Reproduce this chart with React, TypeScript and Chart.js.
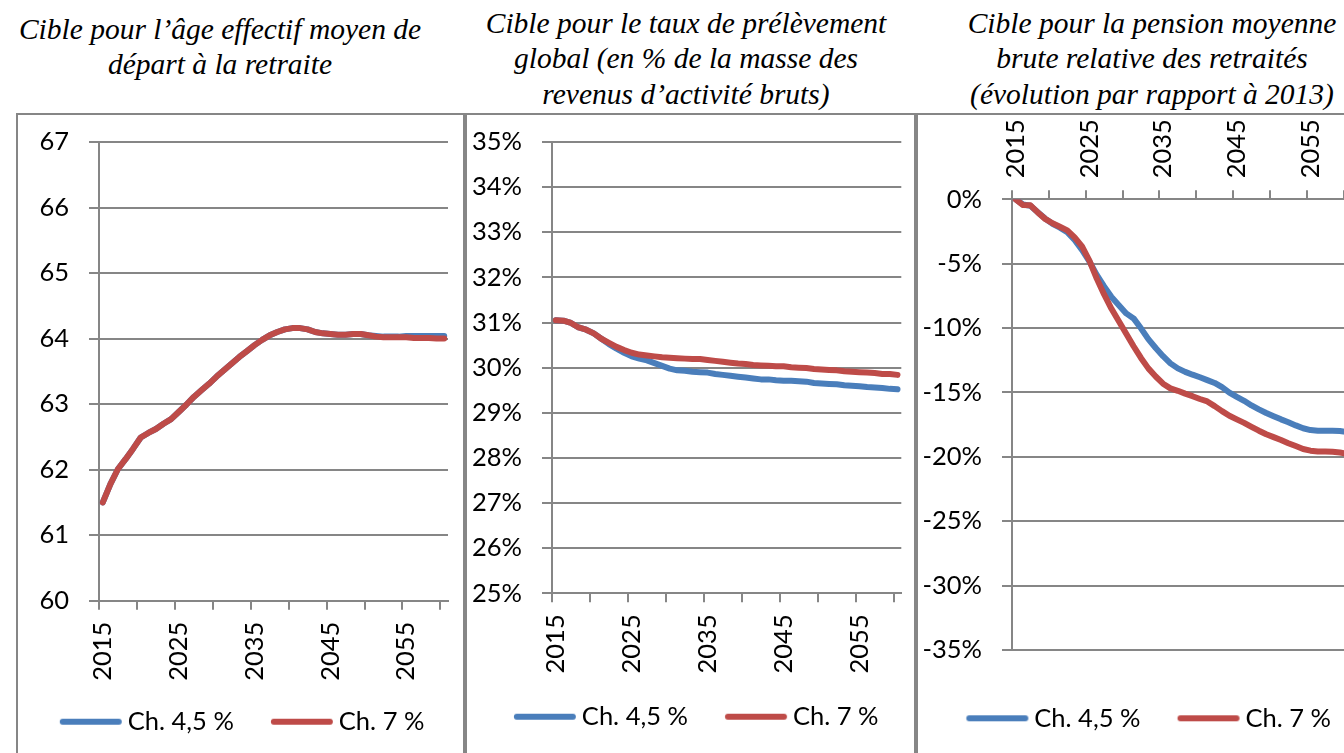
import React, { useEffect, useRef } from 'react';
import { Chart, registerables } from 'chart.js';

Chart.register(...registerables);

// ---------- DATA ----------
const years: string[] = [
  '2015', '2016', '2017', '2018', '2019', '2020', '2021', '2022', '2023', '2024',
  '2025', '2026', '2027', '2028', '2029', '2030', '2031', '2032', '2033', '2034',
  '2035', '2036', '2037', '2038', '2039', '2040', '2041', '2042', '2043', '2044',
  '2045', '2046', '2047', '2048', '2049', '2050', '2051', '2052', '2053', '2054',
  '2055', '2056', '2057', '2058', '2059', '2060',
];

const seriesNames: string[] = ['Ch. 4,5 %', 'Ch. 7 %'];

const titles: string[][] = [
  ['Cible pour l\u2019âge effectif moyen de', 'départ à la retraite'],
  ['Cible pour le taux de prélèvement', 'global (en % de la masse des', 'revenus d\u2019activité bruts)'],
  ['Cible pour la pension moyenne', 'brute relative des retraités', '(évolution par rapport à 2013)'],
];

// Panel 1 : âge effectif moyen de départ
const ageCh45: number[] = [
  61.50, 61.78, 62.01, 62.16, 62.32, 62.49, 62.56, 62.62, 62.70, 62.77,
  62.88, 62.99, 63.11, 63.21, 63.31, 63.42, 63.52, 63.62, 63.72, 63.81,
  63.90, 63.98, 64.05, 64.10, 64.14, 64.16, 64.16, 64.14, 64.10, 64.08,
  64.07, 64.06, 64.06, 64.07, 64.07, 64.05, 64.04, 64.03, 64.03, 64.03,
  64.04, 64.04, 64.04, 64.04, 64.04, 64.04,
];
const ageCh7: number[] = [
  61.50, 61.78, 62.01, 62.16, 62.32, 62.49, 62.56, 62.62, 62.70, 62.77,
  62.88, 62.99, 63.11, 63.21, 63.31, 63.42, 63.52, 63.62, 63.72, 63.81,
  63.90, 63.98, 64.05, 64.10, 64.14, 64.16, 64.16, 64.14, 64.10, 64.08,
  64.07, 64.06, 64.06, 64.07, 64.07, 64.05, 64.03, 64.02, 64.02, 64.02,
  64.02, 64.01, 64.01, 64.01, 64.00, 64.00,
];
const ageTicks = { min: 60, max: 67, step: 1 };

// Panel 2 : taux de prélèvement global (%)
const tauxCh45: number[] = [
  31.05, 31.04, 30.99, 30.89, 30.84, 30.76, 30.64, 30.52, 30.42, 30.33,
  30.25, 30.20, 30.16, 30.10, 30.04, 29.98, 29.94, 29.93, 29.91, 29.90,
  29.89, 29.86, 29.84, 29.82, 29.80, 29.78, 29.76, 29.74, 29.74, 29.72,
  29.71, 29.71, 29.70, 29.69, 29.66, 29.65, 29.64, 29.63, 29.61, 29.60,
  29.59, 29.57, 29.56, 29.55, 29.53, 29.52,
];
const tauxCh7: number[] = [
  31.05, 31.04, 30.99, 30.89, 30.84, 30.76, 30.64, 30.55, 30.46, 30.39,
  30.33, 30.29, 30.27, 30.25, 30.23, 30.22, 30.21, 30.20, 30.19, 30.19,
  30.17, 30.15, 30.13, 30.11, 30.09, 30.08, 30.06, 30.05, 30.04, 30.03,
  30.03, 30.01, 30.00, 29.99, 29.97, 29.96, 29.95, 29.94, 29.92, 29.91,
  29.90, 29.89, 29.88, 29.86, 29.86, 29.84,
];
const tauxTicks = { min: 25, max: 35, step: 1 };

// Panel 3 : pension moyenne relative (évolution en %)
const pensionCh45: number[] = [
  0.0, -0.40, -0.50, -1.00, -1.50, -1.90, -2.20, -2.55, -3.16, -3.93,
  -4.82, -5.87, -6.76, -7.59, -8.22, -8.86, -9.25, -10.02, -10.86, -11.55,
  -12.18, -12.74, -13.13, -13.40, -13.62, -13.82, -14.04, -14.26, -14.59, -15.01,
  -15.34, -15.65, -16.01, -16.31, -16.59, -16.84, -17.09, -17.31, -17.56, -17.78,
  -17.92, -17.97, -17.97, -17.97, -18.00, -18.08,
];
const pensionCh7: number[] = [
  0.0, -0.45, -0.47, -1.02, -1.52, -1.86, -2.13, -2.41, -2.96, -3.66,
  -4.76, -6.15, -7.39, -8.50, -9.47, -10.44, -11.41, -12.32, -13.13, -13.76,
  -14.32, -14.68, -14.87, -15.09, -15.29, -15.51, -15.70, -16.06, -16.45, -16.81,
  -17.09, -17.36, -17.67, -17.97, -18.25, -18.47, -18.69, -18.94, -19.16, -19.39,
  -19.52, -19.58, -19.58, -19.61, -19.66, -19.77,
];
const pensionTicks = { min: -35, max: 0, step: 5 };

// ---------- STYLE ----------
const BLUE = '#4A7EBB';
const RED = '#BE4B48';
const GRID = '#868686';
const FONT = 'Lato';
const FS = 25.5;
const LEG_PAD = 28;
const LEG_BOX = 64.25;
const Y_W = 100;
const PAD_L = 20;
const CANVAS_W = 540;
const CANVAS_TOP = 100;
const CANVAS_H = 653;

// legend marker: a 62px line that sits close to its text
function legendLine(color: string): HTMLCanvasElement {
  const c = document.createElement('canvas');
  c.width = 90;
  c.height = 10;
  const g = c.getContext('2d') as CanvasRenderingContext2D;
  g.strokeStyle = color;
  g.lineWidth = 6;
  g.lineCap = 'round';
  g.beginPath();
  g.moveTo(24.875, 5);
  g.lineTo(80.875, 5);
  g.stroke();
  return c;
}

type Geo = {
  chartL: number;
  chartR: number;
  chartT: number;
  chartB: number;
  legendCX: number;
  legendCY: number;
  xPos: 'top' | 'bottom';
  topAxisH?: number;
};

type PanelOpts = {
  blue: number[];
  red: number[];
  ticks: { min: number; max: number; step: number };
  fmt: (v: number) => string;
  geo: Geo;
};

function canvasLeftOf(g: Geo) {
  return g.chartL - Y_W - PAD_L;
}

function buildConfig(o: PanelOpts): any {
  const g = o.geo;
  const font = { family: FONT, size: FS };
  const cl = canvasLeftOf(g);
  // an empty right-hand box shifts the (full-width) legend to its place
  const rightBox = 2 * (g.legendCX - 4.5) - (g.chartL - Y_W + g.chartR);
  const padRight = cl + CANVAS_W - g.chartR - rightBox;
  const cT = g.chartT - CANVAS_TOP;
  const cB = g.chartB - CANVAS_TOP;
  const cCY = g.legendCY - CANVAS_TOP;
  const legendH = FS + LEG_PAD + 10;
  const legendTop = cCY - LEG_PAD - FS / 2;
  const below = legendTop - cB;
  const padBottom = CANVAS_H - legendTop - legendH;
  let padTop = cT;
  const xHeight = g.xPos === 'bottom' ? below : (g.topAxisH as number);
  if (g.xPos === 'top') padTop = cT - xHeight;

  const scales: any = {
    x: {
      type: 'category',
      position: g.xPos,
      offset: true,
      grid: {
        display: true,
        drawOnChartArea: false,
        drawTicks: true,
        tickLength: 9,
        offset: true,
        lineWidth: 2,
        color: (c: any) => (c.index !== undefined && c.index % 5 === 0 ? GRID : 'rgba(0,0,0,0)'),
      },
      border: { display: true, color: GRID, width: 2 },
      ticks: {
        autoSkip: false,
        maxRotation: 90,
        minRotation: 90,
        padding: 12,
        labelOffset: g.xPos === 'top' ? FS * 1.2 : 0,
        color: '#000',
        font,
        callback: (_v: any, i: number) => (i % 10 === 0 ? years[i] : ''),
      },
      afterFit: (s: any) => {
        s.height = xHeight;
      },
    },
    y: {
      min: o.ticks.min,
      max: o.ticks.max,
      ticks: {
        stepSize: o.ticks.step,
        padding: 20,
        color: '#000',
        font,
        callback: (v: any) => o.fmt(Number(v)),
      },
      grid: { color: GRID, lineWidth: 2, tickLength: 10, drawTicks: true },
      border: { display: true, color: GRID, width: 2 },
      afterFit: (s: any) => {
        s.width = Y_W;
      },
    },
    yr: {
      type: 'linear',
      position: 'right',
      display: true,
      grid: { display: false },
      border: { display: false },
      ticks: { display: false },
      afterFit: (s: any) => {
        s.width = rightBox;
      },
    },
  };
  if (g.xPos === 'top') {
    scales.xb = {
      type: 'category',
      position: 'bottom',
      display: true,
      grid: { display: false },
      border: { display: false },
      ticks: { display: false },
      afterFit: (s: any) => {
        s.height = below;
      },
    };
  }
  const ds = (label: string, data: number[], color: string, order: number) => ({
    label,
    data,
    yAxisID: 'y',
    xAxisID: 'x',
    borderColor: color,
    backgroundColor: color,
    borderWidth: 6,
    pointRadius: 0,
    pointHoverRadius: 0,
    pointStyle: legendLine(color),
    borderCapStyle: 'round',
    borderJoinStyle: 'round',
    tension: 0,
    fill: false,
    order,
  });
  return {
    type: 'line',
    data: {
      labels: years,
      datasets: [ds(seriesNames[0], o.blue, BLUE, 1), ds(seriesNames[1], o.red, RED, 0)],
    },
    options: {
      responsive: false,
      animation: false,
      devicePixelRatio: 1,
      events: [],
      layout: { padding: { top: padTop, right: padRight, bottom: padBottom, left: PAD_L } },
      scales,
      plugins: {
        tooltip: { enabled: false },
        title: { display: false },
        legend: {
          display: true,
          position: 'bottom',
          labels: {
            usePointStyle: true,
            pointStyleWidth: LEG_BOX,
            padding: LEG_PAD,
            color: '#000',
            font,
            sort: (a: any, b: any) => a.datasetIndex - b.datasetIndex,
          },
        },
      },
    },
  };
}

function ChartCanvas(props: { opts: PanelOpts }) {
  const ref = useRef<HTMLCanvasElement | null>(null);
  useEffect(() => {
    const chart = new Chart(ref.current as HTMLCanvasElement, buildConfig(props.opts));
    return () => chart.destroy();
  }, []);
  const left = canvasLeftOf(props.opts.geo);
  return (
    <canvas
      ref={ref}
      width={CANVAS_W}
      height={CANVAS_H}
      style={{ position: 'absolute', left, top: CANVAS_TOP, width: CANVAS_W, height: CANVAS_H }}
    />
  );
}

function Title(props: { lines: string[]; center: number; top: number }) {
  return (
    <div
      style={{
        position: 'absolute',
        left: props.center - 260,
        width: 520,
        top: props.top,
        textAlign: 'center',
        fontFamily: "'Liberation Serif', 'Times New Roman', serif",
        fontStyle: 'italic',
        fontSize: 29.5,
        lineHeight: '35.5px',
        color: '#000',
        whiteSpace: 'nowrap',
      }}
    >
      {props.lines.map((l, i) => (
        <div key={i}>{l}</div>
      ))}
    </div>
  );
}

const pct = (v: number) => `${Math.round(v)}%`;

export default function App() {
  const border = `2px solid ${GRID}`;
  return (
    <div
      style={{
        position: 'fixed',
        left: 0,
        top: 0,
        width: 1344,
        height: 753,
        overflow: 'hidden',
        background: '#fff',
      }}
    >
      <Title lines={titles[0]} center={220} top={11.6} />
      <Title lines={titles[1]} center={686} top={5.6} />
      <Title lines={titles[2]} center={1152} top={5.6} />

      <div style={{ position: 'absolute', left: 16, top: 113, width: 445, height: 700, borderLeft: border, borderTop: border, borderRight: border }} />
      <div style={{ position: 'absolute', left: 465, top: 113, width: 447, height: 700, borderLeft: border, borderTop: border, borderRight: border }} />
      <div style={{ position: 'absolute', left: 916, top: 113, width: 500, height: 700, borderLeft: border, borderTop: border }} />

      <ChartCanvas
        opts={{
          blue: ageCh45,
          red: ageCh7,
          ticks: ageTicks,
          fmt: (v) => String(Math.round(v)),
          geo: { chartL: 99.3, chartR: 448.3, chartT: 142, chartB: 600.7, legendCX: 242.35, legendCY: 721.7, xPos: 'bottom' },
        }}
      />
      <ChartCanvas
        opts={{
          blue: tauxCh45,
          red: tauxCh7,
          ticks: tauxTicks,
          fmt: pct,
          geo: { chartL: 552.3, chartR: 901.6, chartT: 142, chartB: 593.3, legendCX: 696.5, legendCY: 716.7, xPos: 'bottom' },
        }}
      />
      <ChartCanvas
        opts={{
          blue: pensionCh45,
          red: pensionCh7,
          ticks: pensionTicks,
          fmt: pct,
          geo: { chartL: 1011.7, chartR: 1350.7, chartT: 199.3, chartB: 650, legendCX: 1148.35, legendCY: 718.3, xPos: 'top', topAxisH: 82 },
        }}
      />
    </div>
  );
}
